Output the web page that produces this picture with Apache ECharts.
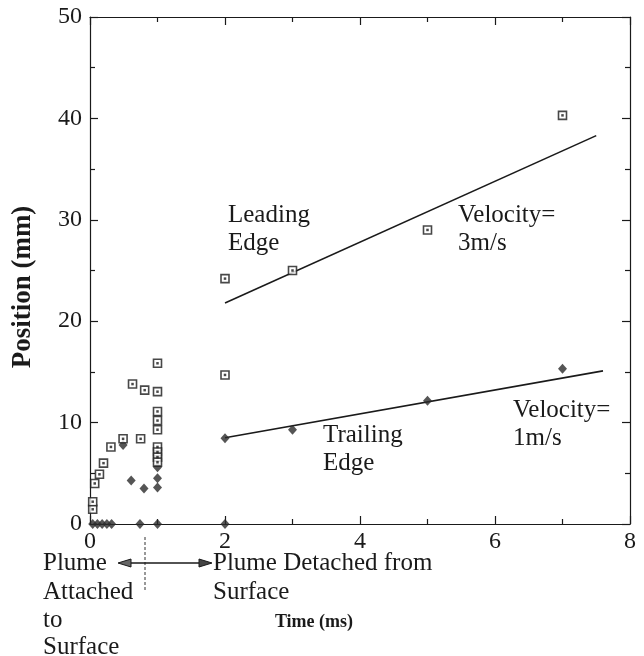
<!DOCTYPE html>
<html><head><meta charset="utf-8">
<script src="https://cdn.jsdelivr.net/npm/echarts@6/dist/echarts.min.js"></script>
<style>html,body{margin:0;padding:0;background:#fff}#c{width:644px;height:656px}</style>
</head><body><div id="c"></div>
<script>
// Leading edge (open squares)
const leadingX = [0.04, 0.04, 0.07, 0.14, 0.2, 0.31, 0.49, 0.63, 0.75, 0.81, 1.0, 1.0, 1.0, 1.0, 1.0, 1.0, 1.0, 1.0, 1.0, 2, 2, 3, 5, 7];
const leadingY = [1.45, 2.2, 4.0, 4.9, 6.0, 7.6, 8.4, 13.8, 8.4, 13.2, 15.85, 13.05, 11.1, 10.2, 9.3, 7.6, 7.1, 6.6, 6.1, 24.2, 14.7, 25.0, 29.0, 40.3];
// Trailing edge (filled diamonds)
const trailingX = [0.04, 0.11, 0.18, 0.25, 0.32, 0.74, 1.0, 2, 0.49, 0.61, 0.8, 1.0, 1.0, 1.0, 2, 3, 5, 7];
const trailingY = [0, 0, 0, 0, 0, 0, 0, 0, 7.8, 4.3, 3.5, 5.6, 4.5, 3.6, 8.45, 9.3, 12.15, 15.3];
// Fitted lines (endpoints)
const leadingFitX = [2, 7.5];
const leadingFitY = [21.8, 38.3];
const trailingFitX = [2, 7.6];
const trailingFitY = [8.5, 15.1];
// Axes
const xMin = 0, xMax = 8, xStep = 2;
const yMin = 0, yMax = 50, yStep = 10;

const zip = (a, b) => a.map((v, i) => [v, b[i]]);
const serif = '"Liberation Serif", "DejaVu Serif", serif';
const ink = '#1a1a1a';
const annFont = '25px ' + serif;

const chart = echarts.init(document.getElementById('c'), null, {renderer: 'canvas'});

function axisCommon(showLabel) {
  return {
    type: 'value',
    axisLine: {show: true, onZero: false, lineStyle: {color: ink, width: 1.2}},
    axisTick: {show: true, inside: true, length: 8, lineStyle: {color: ink, width: 1.2}},
    minorTick: {show: true, splitNumber: 2, length: 5, lineStyle: {color: ink, width: 1.2}},
    splitLine: {show: false},
    minorSplitLine: {show: false},
    axisLabel: {show: showLabel, color: ink, fontFamily: serif, fontSize: 24}
  };
}

const option = {
  backgroundColor: '#fff',
  animation: false,
  grid: {left: 90, right: 14, top: 17, bottom: 132, containLabel: false},
  xAxis: [
    Object.assign(axisCommon(true), {min: xMin, max: xMax, interval: xStep, position: 'bottom',
      axisLabel: {show: true, color: ink, fontFamily: serif, fontSize: 24, margin: 6}}),
    Object.assign(axisCommon(false), {min: xMin, max: xMax, interval: xStep, position: 'top'})
  ],
  yAxis: [
    Object.assign(axisCommon(true), {min: yMin, max: yMax, interval: yStep, position: 'left',
      axisLabel: {show: true, color: ink, fontFamily: serif, fontSize: 24, margin: 8}}),
    Object.assign(axisCommon(false), {min: yMin, max: yMax, interval: yStep, position: 'right'})
  ],
  series: [
    {type: 'line', data: zip(leadingFitX, leadingFitY), symbol: 'none', lineStyle: {color: ink, width: 1.6}, z: 2},
    {type: 'line', data: zip(trailingFitX, trailingFitY), symbol: 'none', lineStyle: {color: ink, width: 1.6}, z: 2},
    {type: 'scatter', data: zip(trailingX, trailingY), symbol: 'diamond', symbolSize: [9, 10],
      itemStyle: {color: '#2a2a2a'}, z: 3},
    {type: 'scatter', data: zip(leadingX, leadingY), symbol: 'rect', symbolSize: 8,
      itemStyle: {color: '#fff', borderColor: ink, borderWidth: 1.6}, z: 4},
    {type: 'scatter', data: zip(leadingX, leadingY), symbol: 'rect', symbolSize: 2.5,
      itemStyle: {color: ink}, z: 5}
  ],
  graphic: [
    {type: 'text', x: 228, y: 215, style: {text: 'Leading', font: annFont, fill: ink, textVerticalAlign: 'middle'}},
    {type: 'text', x: 228, y: 243, style: {text: 'Edge', font: annFont, fill: ink, textVerticalAlign: 'middle'}},
    {type: 'text', x: 458, y: 215, style: {text: 'Velocity=', font: annFont, fill: ink, textVerticalAlign: 'middle'}},
    {type: 'text', x: 458, y: 243, style: {text: '3m/s', font: annFont, fill: ink, textVerticalAlign: 'middle'}},
    {type: 'text', x: 323, y: 435, style: {text: 'Trailing', font: annFont, fill: ink, textVerticalAlign: 'middle'}},
    {type: 'text', x: 323, y: 463, style: {text: 'Edge', font: annFont, fill: ink, textVerticalAlign: 'middle'}},
    {type: 'text', x: 513, y: 410, style: {text: 'Velocity=', font: annFont, fill: ink, textVerticalAlign: 'middle'}},
    {type: 'text', x: 513, y: 438, style: {text: '1m/s', font: annFont, fill: ink, textVerticalAlign: 'middle'}},
    {type: 'text', x: 43, y: 563, style: {text: 'Plume', font: annFont, fill: ink, textVerticalAlign: 'middle'}},
    {type: 'text', x: 43, y: 592, style: {text: 'Attached', font: annFont, fill: ink, textVerticalAlign: 'middle'}},
    {type: 'text', x: 43, y: 620, style: {text: 'to', font: annFont, fill: ink, textVerticalAlign: 'middle'}},
    {type: 'text', x: 43, y: 647, style: {text: 'Surface', font: annFont, fill: ink, textVerticalAlign: 'middle'}},
    {type: 'text', x: 213, y: 563, style: {text: 'Plume Detached from', font: annFont, fill: ink, textVerticalAlign: 'middle'}},
    {type: 'text', x: 213, y: 592, style: {text: 'Surface', font: annFont, fill: ink, textVerticalAlign: 'middle'}},
    {type: 'text', x: 314, y: 622, style: {text: 'Time (ms)', font: 'bold 18px ' + serif, fill: ink, textAlign: 'center', textVerticalAlign: 'middle'}},
    {type: 'text', x: 23, y: 287, rotation: Math.PI / 2, style: {text: 'Position (mm)', font: 'bold 27px ' + serif, fill: ink, textAlign: 'center', textVerticalAlign: 'middle'}},
    {type: 'line', shape: {x1: 145, y1: 537, x2: 145, y2: 590}, style: {stroke: '#333', lineWidth: 1, lineDash: [3, 2]}},
    {type: 'line', shape: {x1: 126, y1: 563, x2: 204, y2: 563}, style: {stroke: ink, lineWidth: 1.3}},
    {type: 'polygon', shape: {points: [[118, 563], [131, 559], [131, 567]]}, style: {fill: '#666', stroke: ink, lineWidth: 1}},
    {type: 'polygon', shape: {points: [[212, 563], [199, 559], [199, 567]]}, style: {fill: '#444', stroke: ink, lineWidth: 1}}
  ]
};
chart.setOption(option);
</script>
</body></html>
